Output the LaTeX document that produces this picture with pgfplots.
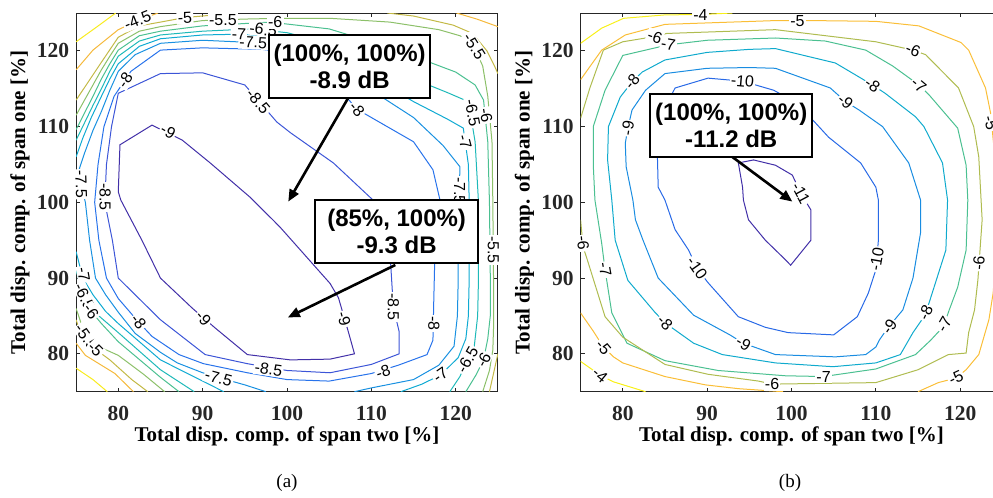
\documentclass[border=0pt]{standalone}
\usepackage{graphicx}
\usepackage{pgfplots}
\pgfplotsset{compat=1.18}
\usetikzlibrary{arrows.meta}
\usepackage{fontspec}
\setmainfont{Liberation Serif}
\newfontfamily\arial{Liberation Sans}
% left plot colours
\definecolor{lA}{RGB}{66,48,168}   % -9
\definecolor{lB}{RGB}{60,85,215}   % -8.5
\definecolor{lC}{RGB}{40,115,235}  % -8
\definecolor{lD}{RGB}{25,145,225}  % -7.5
\definecolor{lE}{RGB}{15,170,210}  % -7
\definecolor{lF}{RGB}{30,185,185}  % -6.5
\definecolor{lG}{RGB}{75,192,145}  % -6
\definecolor{lH}{RGB}{140,192,105} % -5.5
\definecolor{lI}{RGB}{195,185,70}  % -5
\definecolor{lJ}{RGB}{245,185,60}  % -4.5
\definecolor{lK}{RGB}{248,235,30}  % -4
% right plot colours
\definecolor{rA}{RGB}{66,48,168}   % -11
\definecolor{rB}{RGB}{40,105,230}  % -10
\definecolor{rC}{RGB}{25,140,225}  % -9
\definecolor{rD}{RGB}{15,170,205}  % -8
\definecolor{rE}{RGB}{75,192,145}  % -7
\definecolor{rF}{RGB}{175,188,80}  % -6
\definecolor{rG}{RGB}{250,190,55}  % -5
\definecolor{rH}{RGB}{248,240,25}  % -4
\definecolor{frame}{RGB}{38,38,38}
\pgfplotsset{
  myaxis/.style={
    scale only axis, width=210.9pt, height=189.35pt,
    xmin=75, xmax=125, ymin=75, ymax=125,
    xtick={80,90,100,110,120}, ytick={80,90,100,110,120},
    tick align=inside, major tick length=2pt,
    tick style={line width=0.4pt, color=frame},
    axis line style={line width=0.5pt, color=frame},
    /pgf/number format/assume math mode=true,
    ticklabel style={font=\bfseries\fontsize{10.75}{12}\selectfont, text=frame},
    xticklabel style={yshift=-3.6pt},
    label style={font=\bfseries\fontsize{10.5}{12}\selectfont, text=black},
    xlabel={Total disp. comp. of span two [\%]},
    ylabel={Total disp. comp. of span one [\%]},
    xlabel style={at={(axis description cs:0.5,-0.118)}, anchor=center},
    ylabel style={at={(axis description cs:-0.133,0.5)}, anchor=center},
    clip mode=individual,
    no markers,
    every axis plot/.append style={line width=0.5pt},
  },
}
\tikzset{
  cl/.style={font=\arial\fontsize{8}{9}\selectfont, fill=white, inner sep=0.6pt, text=black},
  box/.style={draw=black, line width=1pt, fill=white, font=\arial\bfseries\fontsize{12}{13.5}\selectfont, align=center, minimum height=31.5pt, inner sep=0pt},
  arr/.style={line width=1.3pt, -{Triangle[length=6pt,width=5pt]}},
}
\newcommand{\cl}[4]{\node[cl,rotate=#3] at (axis cs:#1,#2) {#4};}
\begin{document}
\begin{tikzpicture}
% ================= LEFT =================
\begin{axis}[myaxis]
% -9
\addplot[color=lA] coordinates {(84.0,110.2) (87.6,108.2) (90.9,105.2) (95.6,100.7) (98.4,97.6) (99.2,96.7) (105.1,89.3) (106.1,87.4) (107.3,82.8) (108.0,80.0) (105.1,79.3) (100.4,79.2) (95.3,79.9) (91.5,83.4) (88.8,86.0) (85.0,90.0) (82.8,95.0) (80.3,100.3) (80.0,101.4) (80.2,107.6) (84.0,110.2)};
% -8.5
\addplot[color=lB] coordinates {(78.4,100) (78.6,105) (79.2,110) (80,114.4) (85,117) (90,117.1) (95,115.5) (98.8,110.6) (100.4,109.2) (105.5,105.2) (110.2,100.3) (111.5,95) (112.3,91.7) (112.6,86.2) (113.3,82.9) (113.3,80) (110,78.6) (105.1,77.5) (100,77.8) (95.3,78.7) (90.3,79.9) (85,84.5) (80,90) (79.3,95) (78.4,100)};
% -8
\addplot[color=lC] coordinates {(77.2,100) (77.6,105) (78.3,110) (79.5,114) (81.5,117.3) (85,120.1) (90,120.4) (97,120.2) (100,119.8) (105,116.5) (108.3,112.3) (110,111.2) (115,108) (117.3,104.3) (118.2,100) (117.6,95) (117.5,91.7) (117.4,87.1) (117.3,81.8) (116.6,79.9) (113.2,78.5) (110,77.4) (105,76.4) (100,76.6) (95.3,77.5) (90.1,78.7) (87.2,79.9) (84,82.3) (82.4,84.2) (80,87.3) (78.6,90) (77.7,95) (77.2,100)};
% -7.5
\addplot[color=lD] coordinates {(97.5,75) (95,75.9) (91.8,76.9) (90,77.5) (87,78.8) (85,80.2) (82,82.7) (80,85.5) (78.5,87.8) (77.3,90) (76.6,95) (76.1,100) (75.5,102.6) (75.4,104.5) (76,106.5) (77,109.5) (78,112) (79,114.8) (80,117.3) (82,119.5) (85,121) (90,121.4) (96,121.1) (100,120.8) (105,118.3) (110,114.8) (115,111.2) (118.5,107.5) (120.5,104.7) (120.4,100) (120.3,95) (120.3,90) (120.2,85) (119.8,81) (118,78.5) (115,76.6) (110,75.5) (108,75)};
% -7
\addplot[color=lE] coordinates {(75,106) (75.8,108.5) (76.8,111.2) (78,114) (79,116.3) (80,118.3) (82.5,120.6) (85,121.6) (90,122.1) (94.3,122.2) (100,121.8) (105,119.8) (110,116.6) (115,113.3) (119,111) (120.9,109.8) (121.5,105) (121.6,100) (121.6,90) (121.5,85) (121.2,82) (120.3,79.5) (118.2,77.2) (116,76) (113.5,75)};
\addplot[color=lE] coordinates {(75,93.5) (75.8,90) (77,87.8) (78.5,85.6) (80,84) (85,79.2) (90,76.4) (92.5,75)};
% -6.5
\addplot[color=lF] coordinates {(75,108.2) (76,110.5) (77,112.8) (78,115) (79,117.3) (80,119.3) (82.5,121.3) (85,122.1) (90,122.6) (95.9,122.9) (100,122.4) (105,121) (110,118.8) (115,116.3) (119,114.5) (121.5,113.3) (122.3,108) (122.7,100) (122.7,90) (122.6,85) (122.2,81) (121.4,79.2) (120.5,77) (119.3,75)};
\addplot[color=lF] coordinates {(75,91) (75.5,89) (76,87.5) (77.5,85.2) (80,82.8) (85,77.9) (89,75)};
% -6
\addplot[color=lG] coordinates {(75,109.6) (76,111.8) (77,114) (78,116.3) (79,118.3) (80,120.1) (82.5,122) (85,122.6) (90,123.3) (98,123.8) (105,122.9) (110,121.2) (115,119.3) (120,117.2) (122.3,115.5) (123.3,113.5) (123.8,108) (124,100) (124.1,90) (124.1,85) (123.8,82) (123.3,79.2) (122.4,77.2) (121.2,75)};
\addplot[color=lG] coordinates {(75,89) (75.8,87.3) (76.8,85.6) (78,84) (80,81.6) (85,76.9) (87.2,75)};
% -5.5
\addplot[color=lH] coordinates {(75,111.5) (76,113.5) (77,115.5) (78,117.5) (79,119.3) (80,121) (82.5,122.6) (85,123.2) (90,124) (95,124.2) (99.2,124.3) (105.1,124.3) (112.2,123.8) (118,122.8) (120.5,122) (122,121) (123.2,118) (123.8,114) (124.3,108) (124.4,100) (124.45,93.7) (124.5,88) (124.5,84) (124.4,80.5) (124,77.8) (123.2,75)};
\addplot[color=lH] coordinates {(75,86) (75.6,84) (76.2,82.2) (78,80.8) (80,79.8) (83,77.3) (85.5,75)};
% -5
\addplot[color=lI] coordinates {(75,113.5) (76.5,116) (78,118.5) (80,121.8) (82.5,123.3) (85,123.8) (87.9,124.4) (92,124.8) (94,125)};
\addplot[color=lI] coordinates {(111.9,125) (115,124.6) (119.7,123.4) (122,122.3) (123.7,120) (124.6,118) (125,117)};
\addplot[color=lI] coordinates {(125,80) (124.5,77.5) (124,75)};
\addplot[color=lI] coordinates {(75,84.5) (75.6,82.5) (77.3,80.6) (79,79.2) (81.6,76.6) (83.5,75)};
% -4.5
\addplot[color=lJ] coordinates {(75,117.5) (77,120.1) (80,122.8) (82.3,124) (84.7,125)};
\addplot[color=lJ] coordinates {(120.1,125) (122.5,124.2) (125,123.2)};
\addplot[color=lJ] coordinates {(75,81.4) (76.1,79.8) (79.6,77.4) (81.8,75)};
% -4
\addplot[color=lK] coordinates {(75,121.2) (77.5,123.2) (79.7,125)};
\addplot[color=lK] coordinates {(75,78.1) (77,76.6) (78.7,75)};
% labels
\cl{85.9}{109.4}{-30}{-9}
\cl{90.1}{84.7}{-50}{-9}
\cl{106.75}{84.6}{-75}{-9}
\cl{96.6}{113.3}{-50}{-8.5}
\cl{78.45}{100.7}{-90}{-8.5}
\cl{97.8}{78.0}{-8}{-8.5}
\cl{112.6}{86.2}{-90}{-8.5}
\cl{80.8}{116.1}{56}{-8}
\cl{108.3}{112.3}{-49}{-8}
\cl{117.4}{84.0}{-90}{-8}
\cl{111.4}{77.6}{18}{-8}
\cl{82.4}{84.2}{-53}{-8}
\cl{96.0}{121.1}{-3}{-7.5}
\cl{75.6}{102.4}{-88}{-7.5}
\cl{91.9}{76.8}{-15}{-7.5}
\cl{120.45}{101.5}{-90}{-7.5}
\cl{94.3}{122.2}{-3}{-7}
\cl{121.1}{108}{-75}{-7}
\cl{75.9}{90.5}{-80}{-7}
\cl{118.2}{77.2}{35}{-7}
\cl{97.2}{122.8}{-8}{-6.5}
\cl{122.0}{111.8}{-80}{-6.5}
\cl{76.0}{87.5}{-65}{-6.5}
\cl{121.4}{79.2}{60}{-6.5}
\cl{98.6}{123.8}{0}{-6}
\cl{123.6}{111.5}{-80}{-6}
\cl{76.8}{85.6}{-55}{-6}
\cl{123.3}{79.2}{62}{-6}
\cl{92.4}{124.1}{0}{-5.5}
\cl{122.2}{120.6}{-58}{-5.5}
\cl{124.45}{93.7}{-90}{-5.5}
\cl{76.2}{82.2}{-55}{-5.5}
\cl{87.9}{124.4}{3}{-5}
\cl{77.3}{80.6}{-45}{-5}
\cl{82.3}{124.0}{22}{-4.5}
% annotations
\node[box, minimum width=80.5pt] at (axis cs:107.43,117.94) {(100\%, 100\%)\\-8.9 dB};
\node[box, minimum width=81.5pt] at (axis cs:113.0,96.16) {(85\%, 100\%)\\-9.3 dB};
\draw[arr] (axis cs:107.25,113.78) -- (axis cs:100.15,100.1);
\draw[arr] (axis cs:112.84,91.73) -- (axis cs:100.1,84.8);
\end{axis}
% ================= RIGHT =================
\begin{axis}[myaxis, at={(252.25pt,0pt)}, anchor=south west]
% -11
\addplot[color=rA] coordinates {(93.7,105.2) (94.2,102) (94.3,100.3) (94.9,97.7) (96.9,95) (99.3,92.4) (99.9,91.7) (102.3,95) (102.3,99) (101.1,101.2) (100.1,103.6) (98.1,104.9) (95.5,105.6) (93.7,105.2)};
% -10
\addplot[color=rB] coordinates {(84.7,111.8) (86.2,115.1) (90.1,116.4) (94.2,116.0) (97.9,114.8) (100,113.5) (102.5,110.9) (104.4,108.6) (108.2,105.2) (110,102) (110.3,100.3) (110.3,95) (110,91.1) (109.1,88) (107.8,84.9) (105,82.5) (99.6,82.8) (96.9,83.5) (93.7,84.9) (90.1,89.4) (88.8,91.3) (87.8,93.7) (86.2,96.4) (85,100.3) (84.2,102) (84.1,106.3) (84.7,111.8)};
% -9
\addplot[color=rC] coordinates {(80.3,107.8) (80.6,109.8) (81.1,112.2) (82.7,114.8) (85,117) (90,117.7) (95,117.8) (98.1,117.7) (104.6,115.1) (106.4,113.3) (108,112.2) (110.8,110) (113.9,105.2) (115.3,100.3) (115.3,96) (114.4,90) (113.2,85.8) (111.4,83.4) (110.4,81.8) (110,80.9) (108.8,79.9) (105.2,79.6) (98.1,79.9) (94.3,81.4) (92.7,82.5) (88.4,85.1) (84.2,90) (82.4,95) (81.5,97.7) (81.2,100.3) (80.4,104.7) (80.3,107.8)};
% -8
\addplot[color=rD] coordinates {(78.7,100.3) (78.2,105.6) (78.3,110) (79.7,113.9) (81.1,115.9) (82.3,117.2) (85,118.8) (90,119.8) (95,120.2) (98.1,120.3) (105.2,118.4) (109.6,115.5) (111.1,114.4) (114.7,111.3) (115.7,110) (117.9,105.2) (118.5,100.3) (118.3,93.7) (116.3,86.7) (115.7,84.9) (114.4,82.8) (112.9,79.9) (110,78.8) (104.9,78.3) (98.1,78.8) (91.8,79.9) (88.4,81.4) (85,84.1) (83.8,85.5) (80.6,89.7) (79.1,95) (78.7,100.3)};
% -7
\addplot[color=rE] coordinates {(76.7,100.3) (76.5,105) (76.5,110) (77.9,114.8) (80,119.4) (85.4,120.8) (90,121.4) (98.1,121.7) (104,121.3) (108.8,120.1) (112,118) (115.1,115.5) (116.3,114.2) (119.7,109.8) (120.7,104.9) (120.9,100.3) (120.7,93.7) (119.7,88.8) (118.7,85.8) (118,83.6) (116.5,81.8) (114.7,79.9) (110,78) (103.8,77.0) (99.3,77.1) (91.3,77.8) (85,79.1) (80.5,81.4) (78.7,85.4) (77.9,91.1) (77.5,94.6) (76.7,100.3)};
% -6
\addplot[color=rF] coordinates {(75,111.1) (76.1,115.1) (77.7,120.1) (80,121.2) (83.8,121.9) (85.2,122.3) (98.1,122.8) (110,121.2) (114.4,120.1) (115.9,119.5) (119.8,115.1) (121.6,110) (122.2,106) (122.6,97.7) (122.1,89.8) (121.7,85.8) (121,82.8) (120.7,80.1) (118.6,79.9) (115,77.9) (110,76.2) (97.7,76.0) (96.1,76.4) (90.1,77.3) (85,78.6) (80,82.2) (77.9,84.9) (75.8,92.4) (75.3,94.1) (75,97.7)};
% -5
\addplot[color=rG] coordinates {(75,116.2) (77.5,120.1) (80.3,122.1) (85,123.5) (98.1,124) (102.4,124) (110,123.9) (115.1,123.3) (120.1,121.1) (121,120.1) (123,115.1) (123.6,111.8) (124.2,105) (124.4,95) (123.9,88) (123.4,84.5) (122.2,79.9) (120.7,77.9) (119.5,76.8) (117.4,76.2) (115,75)};
\addplot[color=rG] coordinates {(75,85.4) (76.5,83) (77.7,80.9) (78.9,79.6) (80,78.8) (85,77) (89.8,75.9) (93.7,75.4) (99,75)};
% -4
\addplot[color=rH] coordinates {(75,121) (77.5,123) (80.1,124.3) (85,124.75) (89.2,124.8) (93,125)};
\addplot[color=rH] coordinates {(75,79) (77.3,77.2) (78.9,76.3) (82.7,75)};
% labels
\cl{89.2}{124.7}{0}{-4}
\cl{100.7}{124.0}{0}{-5}
\cl{83.8}{121.9}{-20}{-6}
\cl{85.4}{120.8}{-10}{-7}
\cl{81.1}{115.9}{50}{-8}
\cl{80.6}{109.8}{80}{-9}
\cl{94.2}{116.0}{-5}{-10}
\cl{114.4}{120.1}{-22}{-6}
\cl{115.1}{115.5}{-40}{-7}
\cl{109.6}{115.5}{-35}{-8}
\cl{106.4}{113.3}{-40}{-9}
\cl{123.6}{110.5}{-75}{-5}
\cl{101.1}{101.2}{-62}{-11}
\cl{122.2}{92.0}{85}{-6}
\cl{110.1}{92.5}{80}{-10}
\cl{111.6}{83.6}{55}{-9}
\cl{115.9}{85.4}{65}{-8}
\cl{118.1}{83.9}{60}{-7}
\cl{119.5}{76.8}{25}{-5}
\cl{103.8}{77.0}{0}{-7}
\cl{97.7}{76.0}{0}{-6}
\cl{94.3}{81.4}{-30}{-9}
\cl{85.0}{84.1}{-45}{-8}
\cl{88.8}{91.3}{-55}{-10}
\cl{77.9}{91.1}{-80}{-7}
\cl{75.3}{94.6}{-85}{-6}
\cl{77.7}{80.9}{-50}{-5}
\cl{77.3}{77.2}{-40}{-4}
% annotation
\node[box, minimum width=81pt] at (axis cs:92.86,110.15) {(100\%, 100\%)\\-11.2 dB};
\draw[arr] (axis cs:92.98,106.0) -- (axis cs:100.1,100.1);
\end{axis}
\node[font=\fontsize{9.5}{10}\selectfont] at (105.45pt,-45.65pt) {(a)};
\node[font=\fontsize{9.5}{10}\selectfont] at (356.95pt,-45.65pt) {(b)};
\pgfresetboundingbox
\useasboundingbox (-38.05pt,-53.15pt) rectangle (458.45pt,195.85pt);
\end{tikzpicture}
\end{document}
